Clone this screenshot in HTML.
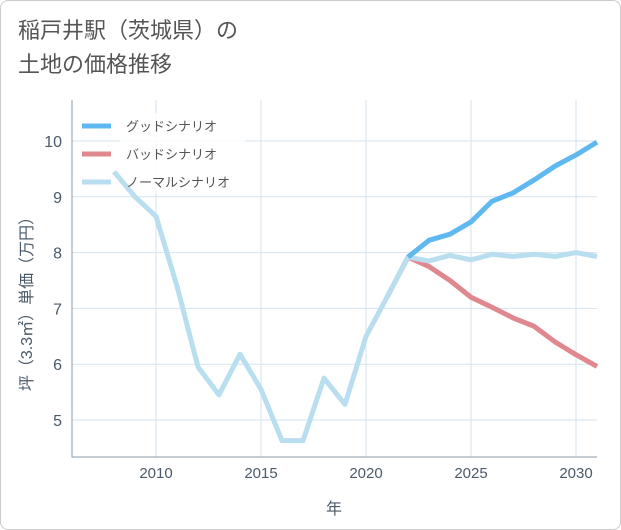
<!DOCTYPE html>
<html><head><meta charset="utf-8"><style>
body{margin:0;background:#fff;font-family:"Liberation Sans","Noto Sans CJK JP",sans-serif;}
.card{position:absolute;left:0;top:0;width:619px;height:528px;border:1px solid #ccc;border-radius:8px;background:#fff;}
.title{position:absolute;left:18px;top:14px;font-size:22px;line-height:34px;color:#555;}
</style></head><body>
<div class="card"></div>
<div class="title">稲戸井駅（茨城県）の<br>土地の価格推移</div>
<svg id="c" width="621" height="530" style="position:absolute;left:0;top:0"></svg>
<script>
const years=[2008,2009,2010,2011,2012,2013,2014,2015,2016,2017,2018,2019,2020,2021,2022,2023,2024,2025,2026,2027,2028,2029,2030,2031];
const normal=[9.45,9.0,8.65,7.4,5.95,5.45,6.18,5.55,4.63,4.63,5.75,5.28,6.5,7.2,7.92,7.85,7.95,7.87,7.97,7.93,7.97,7.93,8.0,7.93];
const goodYears=[2022,2023,2024,2025,2026,2027,2028,2029,2030,2031];
const good=[7.92,8.22,8.33,8.55,8.92,9.07,9.3,9.55,9.75,9.98];
const badYears=[2021,2022,2023,2024,2025,2026,2027,2028,2029,2030,2031];
const bad=[7.2,7.92,7.75,7.5,7.2,7.02,6.83,6.68,6.4,6.17,5.96];
const xTicks=[2010,2015,2020,2025,2030];
const yTicks=[5,6,7,8,9,10];
const L=72,R=597,T=100,B=457;
const x=v=>L+(v-2006)*(R-L)/25;
const y=v=>420-(v-5)*55.8;
const svg=document.getElementById('c');const NS='http://www.w3.org/2000/svg';
function el(t,a,p){const e=document.createElementNS(NS,t);for(const k in a)e.setAttribute(k,a[k]);(p||svg).appendChild(e);return e;}
for(const t of xTicks){const g=el('line',{x1:x(t),x2:x(t),y1:T,y2:B,stroke:'#d5e3ee','stroke-width':1});


const tx=el('text',{x:x(t),y:478,'text-anchor':'middle','font-size':15,fill:'#4a5a6a'});tx.textContent=t;

}
for(const t of yTicks){const g=el('line',{x1:L,x2:R,y1:y(t),y2:y(t),stroke:'#d5e3ee','stroke-width':1});


const tx=el('text',{x:62,y:y(t)+6,'text-anchor':'end','font-size':16,fill:'#4a5a6a'});tx.textContent=t;

}
const ax=el('path',{d:`M${L} ${T}V${B}H${R}`,fill:'none',stroke:'#8a9aa8','stroke-width':1});


// legend background (behind lines)
const lr=el('rect',{x:120,y:113,width:125,height:80,fill:'#fff','fill-opacity':0.85});


function line(xs,vs,c,name){const p=el('polyline',{points:xs.map((v,i)=>x(v)+','+y(vs[i])).join(' '),fill:'none',stroke:c,'stroke-width':5,'stroke-linejoin':'round'});

}
line(badYears,bad,'#e0888e','bad-series');
line(years,normal,'#b9def0','normal-series');
line(goodYears,good,'#5fb8f0','good-series');
const leg=[['グッドシナリオ','#5fb8f0'],['バッドシナリオ','#e0888e'],['ノーマルシナリオ','#b9def0']];
leg.forEach((l,i)=>{const yy=126+i*28;
const s=el('line',{x1:82,x2:111,y1:yy,y2:yy,stroke:l[1],'stroke-width':5});


const t=el('text',{x:126,y:yy+5,'font-size':13,fill:'#555'});t.textContent=l[0];

});
const xt=el('text',{x:334,y:514,'text-anchor':'middle','font-size':16,fill:'#4a5a6a'});xt.textContent='年';


const yt=el('text',{x:0,y:0,'text-anchor':'middle','font-size':16,fill:'#4a5a6a',transform:'translate(32,300) rotate(-90)'});yt.textContent='坪（3.3㎡）単価（万円）';


</script>
</body></html>
